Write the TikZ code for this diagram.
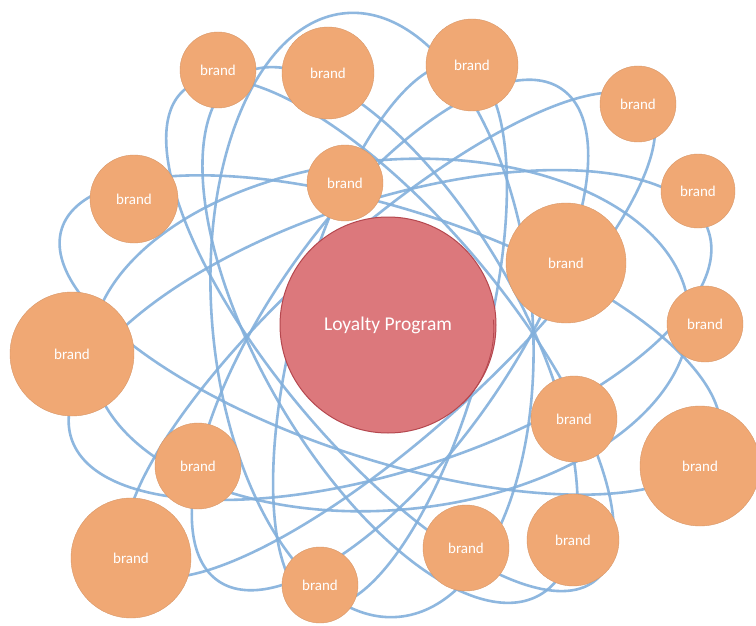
\documentclass[tikz,border=0pt]{standalone}
\usepackage{fontspec}
\setmainfont{Carlito}
\definecolor{orb}{HTML}{F0A874}
\definecolor{lred}{HTML}{DC787C}
\definecolor{rborder}{HTML}{B5484F}
\definecolor{lblue}{HTML}{82B0DC}
\tikzset{
  brandnode/.style={circle,fill=orb,draw=orb!90!black,line width=0.4pt,inner sep=0pt,minimum size=#1,text=white,font=\fontsize{15}{16}\selectfont},
  loopline/.style={draw=lblue,line width=2.6pt,opacity=0.9}
}
\begin{document}
\begin{tikzpicture}[x=1pt,y=-1pt]
\useasboundingbox (0,0) rectangle (756,626);
\fill[white] (0,0) rectangle (756,626);
\coordinate (c) at (390,335);
\coordinate (cv) at (372,315);
% orbit ellipses
\draw[loopline,rotate around={-18:(c)}] (c) ellipse (345 and 125);
\draw[loopline,rotate around={18:(c)}] (c) ellipse (335 and 135);
\draw[loopline,rotate around={55:(c)}] (c) ellipse (300 and 120);
\draw[loopline,rotate around={95:(cv)}] (cv) ellipse (303 and 160);
\draw[loopline,rotate around={130:(c)}] (c) ellipse (320 and 115);
\draw[loopline,rotate around={-60:(c)}] (c) ellipse (300 and 130);
\draw[loopline,rotate around={5:(c)}] (c) ellipse (300 and 175);
\draw[loopline,rotate around={75:(c)}] (c) ellipse (280 and 95);
\draw[loopline,rotate around={42:(c)}] (c) ellipse (345 and 100);
% brands
\node[brandnode=76pt] (b1) at (218,70) {brand};
\node[brandnode=92pt] (b2) at (328,73) {brand};
\node[brandnode=92pt] (b3) at (472,65) {brand};
\node[brandnode=76pt] (b4) at (638,104) {brand};
\node[brandnode=88pt] (b5) at (134,199) {brand};
\node[brandnode=76pt] (b6) at (345,183) {brand};
\node[brandnode=74pt] (b7) at (698,191) {brand};
\node[brandnode=120pt] (b8) at (566,263) {brand};
\node[brandnode=124pt] (b10) at (72,354) {brand};
\node[brandnode=76pt] (b11) at (705,324) {brand};
\node[brandnode=86pt] (b12) at (574,419) {brand};
\node[brandnode=86pt] (b13) at (198,466) {brand};
\node[brandnode=120pt] (b14) at (700,466) {brand};
\node[brandnode=120pt] (b15) at (131,558) {brand};
\node[brandnode=86pt] (b16) at (466,548) {brand};
\node[brandnode=92pt] (b17) at (573,540) {brand};
\node[brandnode=76pt] (b18) at (320,585) {brand};
% centre
\node[circle,fill=lred,draw=rborder,line width=1pt,minimum size=216pt,inner sep=0pt,text=white,font=\fontsize{19.5}{22}\selectfont] (lp) at (388,325) {Loyalty Program};
\draw[rborder,line width=0.8pt] ([shift={(-2,2)}]lp.-45) arc[start angle=-45,end angle=5,radius=106pt];
\end{tikzpicture}
\end{document}
